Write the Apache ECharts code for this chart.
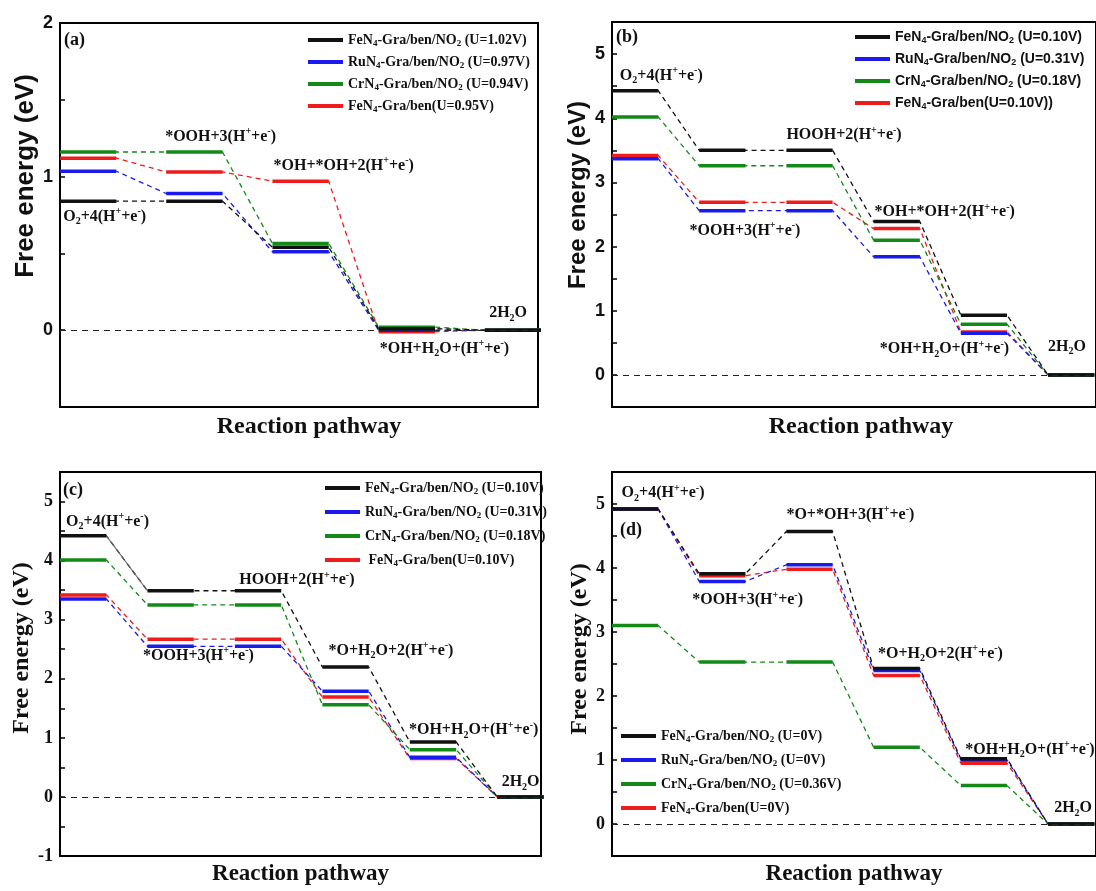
<!DOCTYPE html>
<html><head><meta charset="utf-8">
<script src="https://cdn.jsdelivr.net/npm/echarts@6/dist/echarts.min.js"></script>
<style>html,body{margin:0;padding:0;background:#fff;overflow:hidden}#chart{width:1096px;height:891px}</style>
</head><body><div id="chart"></div>
<script>
// ================= DATA =================
// Series order in every panel: FeN4-Gra/ben/NO2, RuN4-Gra/ben/NO2, CrN4-Gra/ben/NO2, FeN4-Gra/ben

// Panel (a): free energy (eV) at each reaction step
const a_FeN4_NO2 = [0.84, 0.84, 0.54, 0.01, 0.00];
const a_RuN4_NO2 = [1.035, 0.89, 0.51, 0.00, 0.00];
const a_CrN4_NO2 = [1.16, 1.16, 0.565, 0.02, 0.00];
const a_FeN4     = [1.12, 1.03, 0.97, -0.01, 0.00];

// Panel (b)
const b_FeN4_NO2 = [4.43, 3.50, 3.50, 2.39, 0.93, 0.00];
const b_RuN4_NO2 = [3.37, 2.56, 2.56, 1.84, 0.65, 0.00];
const b_CrN4_NO2 = [4.02, 3.26, 3.26, 2.10, 0.79, 0.00];
const b_FeN4     = [3.42, 2.69, 2.69, 2.28, 0.67, 0.00];

// Panel (c)
const c_FeN4_NO2 = [4.42, 3.49, 3.49, 2.20, 0.93, 0.00];
const c_RuN4_NO2 = [3.35, 2.55, 2.55, 1.79, 0.67, 0.00];
const c_CrN4_NO2 = [4.01, 3.25, 3.25, 1.56, 0.80, 0.00];
const c_FeN4     = [3.42, 2.67, 2.67, 1.69, 0.65, 0.00];

// Panel (d)
const d_FeN4_NO2 = [4.92, 3.91, 4.57, 2.43, 1.02, 0.00];
const d_RuN4_NO2 = [4.92, 3.79, 4.05, 2.40, 1.00, 0.00];
const d_CrN4_NO2 = [3.10, 2.53, 2.53, 1.20, 0.60, 0.00];
const d_FeN4     = [4.92, 3.88, 3.98, 2.32, 0.95, 0.00];

// Legend texts
const legendA = ['FeN{sub|4}-Gra/ben/NO{sub|2} (U=1.02V)', 'RuN{sub|4}-Gra/ben/NO{sub|2} (U=0.97V)', 'CrN{sub|4}-Gra/ben/NO{sub|2} (U=0.94V)', 'FeN{sub|4}-Gra/ben(U=0.95V)'];
const legendB = ['FeN{sub|4}-Gra/ben/NO{sub|2} (U=0.10V)', 'RuN{sub|4}-Gra/ben/NO{sub|2} (U=0.31V)', 'CrN{sub|4}-Gra/ben/NO{sub|2} (U=0.18V)', 'FeN{sub|4}-Gra/ben(U=0.10V))'];
const legendC = ['FeN{sub|4}-Gra/ben/NO{sub|2} (U=0.10V)', 'RuN{sub|4}-Gra/ben/NO{sub|2} (U=0.31V)', 'CrN{sub|4}-Gra/ben/NO{sub|2} (U=0.18V)', ' FeN{sub|4}-Gra/ben(U=0.10V)'];
const legendD = ['FeN{sub|4}-Gra/ben/NO{sub|2} (U=0V)', 'RuN{sub|4}-Gra/ben/NO{sub|2} (U=0V)', 'CrN{sub|4}-Gra/ben/NO{sub|2} (U=0.36V)', 'FeN{sub|4}-Gra/ben(U=0V)'];

// Step annotation texts and their anchors (data coords: step index, energy)
const HE = '(H{sup|+}+e{sup|-})';
const labelsA = ['O{sub|2}+4' + HE, '*OOH+3' + HE, '*OH+*OH+2' + HE, '*OH+H{sub|2}O+' + HE, '2H{sub|2}O'];
const labelPosA = [[0.03, 0.74], [0.99, 1.26], [2.01, 1.07], [3.01, -0.12], [4.04, 0.11]];
const labelsB = ['O{sub|2}+4' + HE, '*OOH+3' + HE, 'HOOH+2' + HE, '*OH+*OH+2' + HE, '*OH+H{sub|2}O+' + HE, '2H{sub|2}O'];
const labelPosB = [[0.09, 4.66], [0.89, 2.25], [2.0, 3.74], [3.01, 2.54], [3.07, 0.40], [5.0, 0.44]];
const labelsC = ['O{sub|2}+4' + HE, '*OOH+3' + HE, 'HOOH+2' + HE, '*O+H{sub|2}O+2' + HE, '*OH+H{sub|2}O+' + HE, '2H{sub|2}O'];
const labelPosC = [[0.07, 4.66], [0.95, 2.39], [2.05, 3.67], [3.07, 2.48], [3.99, 1.13], [5.05, 0.25]];
const labelsD = ['O{sub|2}+4' + HE, '*OOH+3' + HE, '*O+*OH+3' + HE, '*O+H{sub|2}O+2' + HE, '*OH+H{sub|2}O+' + HE, '2H{sub|2}O'];
const labelPosD = [[0.11, 5.17], [0.92, 3.50], [2.0, 4.83], [3.05, 2.66], [4.05, 1.16], [5.07, 0.25]];

// ================= STYLE / LAYOUT =================
const SERIF = '"Liberation Serif","Times New Roman",serif';
const SANS = '"Liberation Sans",Arial,sans-serif';
const COLORS = ['#111111', '#1a1aee', '#138a18', '#ee1c1c'];
const DRAW_ORDER = [3, 1, 2, 0];
const SEG = 0.53;

const panels = [
  {key: 'a', grid: {left: 60, top: 23, width: 478, height: 384}, xMax: 4.5, yMin: -0.5, yMax: 2,
   axisFont: SANS, yNameFont: SANS, yNameSize: 26, yNameGap: 21, yNamePad: 78,
   xNameSize: 24, xNameGap: 8, xNamePad: 20,
   legendFont: SERIF, legendSize: 14, legendPos: {left: 308, top: 32}, legendGap: 6,
   letter: '(a)', letterPos: {left: 64, top: 31},
   values: [a_FeN4_NO2, a_RuN4_NO2, a_CrN4_NO2, a_FeN4], legend: legendA, labels: labelsA, labelPos: labelPosA, solidLinks: []},
  {key: 'b', grid: {left: 612, top: 22, width: 492, height: 385}, xMax: 5.55, yMin: -0.5, yMax: 5.5,
   axisFont: SANS, yNameFont: SANS, yNameSize: 24, yNameGap: 22, yNamePad: 39,
   xNameSize: 24, xNameGap: 8, xNamePad: 14,
   legendFont: SANS, legendSize: 14, legendPos: {left: 855, top: 29}, legendGap: 6,
   letter: '(b)', letterPos: {left: 616, top: 28},
   values: [b_FeN4_NO2, b_RuN4_NO2, b_CrN4_NO2, b_FeN4], legend: legendB, labels: labelsB, labelPos: labelPosB, solidLinks: []},
  {key: 'c', grid: {left: 60, top: 472, width: 481, height: 384}, xMax: 5.5, yMin: -1, yMax: 5.5,
   axisFont: SERIF, yNameFont: SERIF, yNameSize: 24, yNameGap: 20, yNamePad: 32,
   xNameSize: 23, xNameGap: 7, xNamePad: 0,
   legendFont: SERIF, legendSize: 14, legendPos: {left: 325, top: 480}, legendGap: 8,
   letter: '(c)', letterPos: {left: 63, top: 481},
   values: [c_FeN4_NO2, c_RuN4_NO2, c_CrN4_NO2, c_FeN4], legend: legendC, labels: labelsC, labelPos: labelPosC, solidLinks: [{s: 0, step: 0}]},
  {key: 'd', grid: {left: 612, top: 472, width: 492, height: 384}, xMax: 5.55, yMin: -0.5, yMax: 5.5,
   axisFont: SERIF, yNameFont: SERIF, yNameSize: 24, yNameGap: 19, yNamePad: 30,
   xNameSize: 23, xNameGap: 7, xNamePad: 0,
   legendFont: SERIF, legendSize: 14, legendPos: {left: 621, top: 728}, legendGap: 8,
   letter: '(d)', letterPos: {left: 620, top: 521},
   values: [d_FeN4_NO2, d_RuN4_NO2, d_CrN4_NO2, d_FeN4], legend: legendD, labels: labelsD, labelPos: labelPosD, solidLinks: []}
];

function richFor(font, size, color) {
  const s = Math.round(size * 0.62);
  return {
    sub: {fontFamily: font, fontWeight: 'bold', fontSize: s, lineHeight: s, color: color, verticalAlign: 'bottom'},
    sup: {fontFamily: font, fontWeight: 'bold', fontSize: s, lineHeight: s, color: color, verticalAlign: 'top'}
  };
}
const isInt = v => Math.abs(v - Math.round(v)) < 1e-6;

const option = {animation: false, backgroundColor: '#ffffff', grid: [], xAxis: [], yAxis: [], legend: [], series: [], graphic: []};

panels.forEach((P, pi) => {
  option.grid.push(Object.assign({show: true, borderColor: '#000', borderWidth: 2, backgroundColor: 'transparent'}, P.grid));
  option.xAxis.push({
    type: 'value', gridIndex: pi, min: 0, max: P.xMax,
    axisLine: {show: true, onZero: false, lineStyle: {color: '#000', width: 2}},
    axisTick: {show: false}, axisLabel: {show: false}, splitLine: {show: false},
    name: 'Reaction pathway', nameLocation: 'middle', nameGap: P.xNameGap,
    nameTextStyle: {fontFamily: SERIF, fontWeight: 'bold', fontSize: P.xNameSize, color: '#111', padding: [0, 0, 0, P.xNamePad]}
  });
  option.yAxis.push({
    type: 'value', gridIndex: pi, min: P.yMin, max: P.yMax, interval: 0.5,
    axisLine: {show: true, onZero: false, lineStyle: {color: '#000', width: 2}},
    axisTick: {show: true, inside: true, length: 5, lineStyle: {color: '#000', width: 1.5}},
    axisLabel: {formatter: v => isInt(v) ? String(Math.round(v)) : '', fontFamily: P.axisFont, fontWeight: 'bold', fontSize: 18, color: '#111', margin: 7},
    splitLine: {show: false},
    name: 'Free energy (eV)', nameLocation: 'middle', nameGap: P.yNameGap,
    nameTextStyle: {fontFamily: P.yNameFont, fontWeight: 'bold', fontSize: P.yNameSize, color: '#111', padding: [0, 0, 0, P.yNamePad]}
  });

  DRAW_ORDER.forEach((si, k) => {
    const v = P.values[si];
    const conn = [], lev = [];
    v.forEach((y, i) => {
      conn.push([i, y], [i + SEG, y]);
      lev.push([i, y], [i + SEG, y], [i + SEG + 0.2, '-']);
    });
    const connSeries = {
      type: 'line', name: P.key + si + 'c', xAxisIndex: pi, yAxisIndex: pi, data: conn,
      symbol: 'none', showSymbol: false, silent: true, z: 2,
      lineStyle: {color: COLORS[si], width: 1.3, type: [5, 4]}, itemStyle: {color: COLORS[si]}
    };
    if (k === 0) {
      connSeries.markLine = {
        silent: true, symbol: ['none', 'none'], label: {show: false},
        lineStyle: {color: '#222', width: 1.2, type: [6, 5]}, data: [{yAxis: 0}]
      };
    }
    option.series.push(connSeries);
    option.series.push({
      type: 'line', name: P.key + si, xAxisIndex: pi, yAxisIndex: pi, data: lev,
      symbol: 'none', showSymbol: false, silent: true, z: 3,
      lineStyle: {color: COLORS[si], width: 3.5}, itemStyle: {color: COLORS[si]}
    });
  });

  P.solidLinks.forEach(l => {
    const v = P.values[l.s];
    option.series.push({
      type: 'line', name: P.key + 'link', xAxisIndex: pi, yAxisIndex: pi,
      data: [[l.step + SEG, v[l.step]], [l.step + 1, v[l.step + 1]]],
      symbol: 'none', showSymbol: false, silent: true, z: 2,
      lineStyle: {color: '#666', width: 1.1}
    });
  });

  option.series.push({
    type: 'scatter', name: P.key + 'labels', xAxisIndex: pi, yAxisIndex: pi, silent: true, z: 5,
    symbolSize: 0, itemStyle: {color: '#000'},
    data: P.labelPos.map((p, i) => ({value: p, name: P.labels[i]})),
    label: {show: true, position: 'right', distance: 0, formatter: p => p.name, opacity: 1,
      fontFamily: SERIF, fontWeight: 'bold', fontSize: 16, lineHeight: 20, color: '#111',
      rich: richFor(SERIF, 16, '#111')}
  });

  option.legend.push({
    orient: 'vertical', left: P.legendPos.left, top: P.legendPos.top, padding: 0,
    itemWidth: 35, itemHeight: 4, itemGap: P.legendGap, icon: 'rect', selectedMode: false,
    itemStyle: {borderWidth: 0},
    data: [0, 1, 2, 3].map(i => P.key + i),
    formatter: n => P.legend[+n.slice(1)],
    textStyle: {fontFamily: P.legendFont, fontWeight: 'bold', fontSize: P.legendSize, lineHeight: 16, color: '#111',
      rich: richFor(P.legendFont, P.legendSize, '#111')}
  });

  option.graphic.push({
    type: 'text', left: P.letterPos.left, top: P.letterPos.top, silent: true,
    style: {text: P.letter, font: 'bold 18px ' + SERIF, fill: '#111'}
  });
});

const chart = echarts.init(document.getElementById('chart'), null, {renderer: 'canvas'});
chart.setOption(option);
</script>
</body></html>
